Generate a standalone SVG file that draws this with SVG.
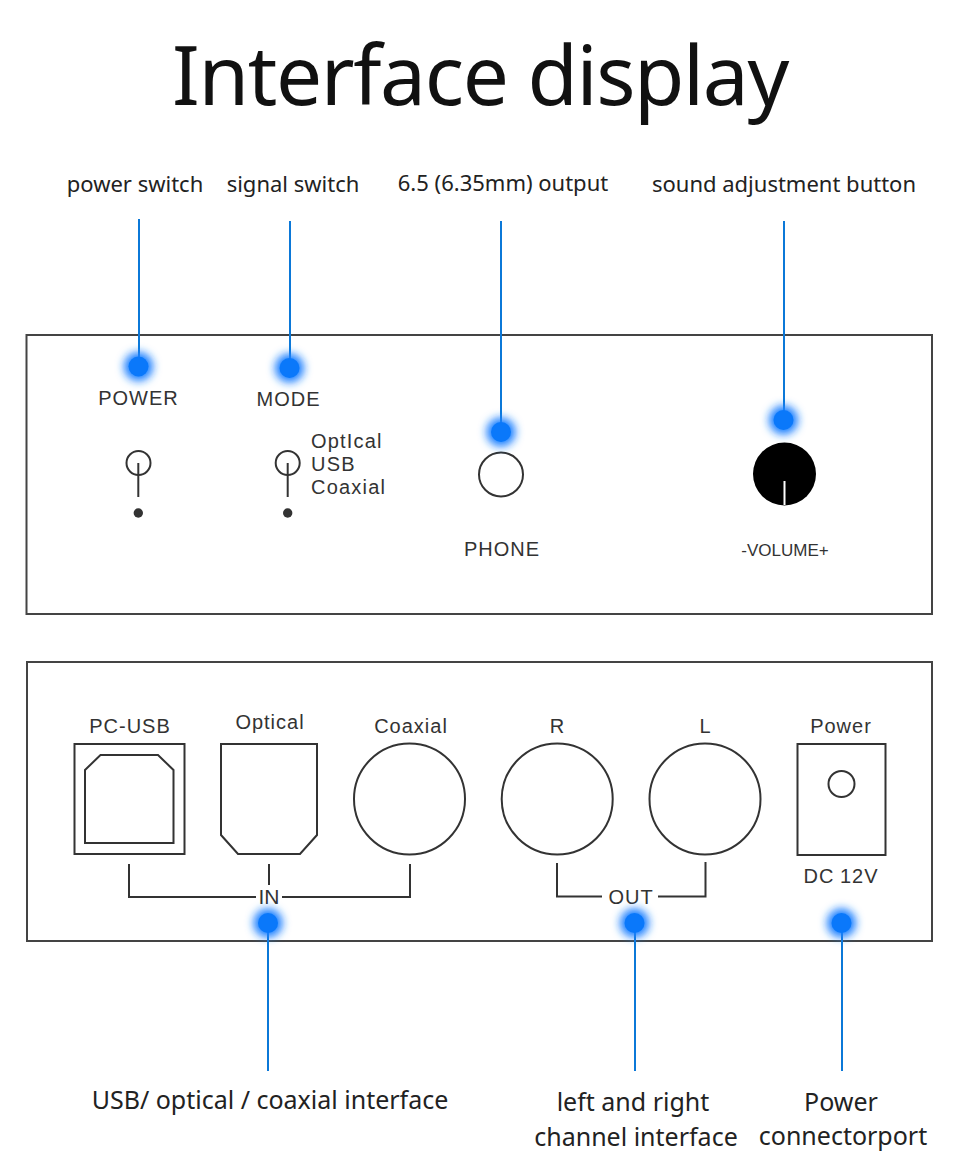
<svg xmlns="http://www.w3.org/2000/svg" width="960" height="1153" viewBox="0 0 960 1153">
<defs>
<filter id="glow" x="-100%" y="-100%" width="300%" height="300%"><feGaussianBlur stdDeviation="4.500"/></filter>
<g id="dot"><circle r="14.500" fill="#1a80ff" filter="url(#glow)"/><circle r="10" fill="#0a78fa"/></g>
</defs>
<style>
.cap{font-family:"Noto Sans","Open Sans",sans-serif;font-size:22px;fill:#222;text-anchor:middle}
.capb{font-size:25px}
.lb{font-family:"Liberation Sans",Arial,sans-serif;font-size:20px;fill:#333;text-anchor:middle;letter-spacing:1px}
.st{text-anchor:start;letter-spacing:1.200px}
.s{fill:none;stroke:#333;stroke-width:2}
.panel{fill:#fff;stroke:#444;stroke-width:2}
.lead{fill:none;stroke:#0b78d8;stroke-width:2}
</style>
<rect width="960" height="1153" fill="#fff"/>
<text x="480" y="105" font-family="'Noto Sans','Open Sans',sans-serif" font-size="82" letter-spacing="-1.400" fill="#111" text-anchor="middle" id="title">Interface display</text>
<g id="captions">
<text class="cap" x="135" y="192">power switch</text>
<text class="cap" x="293" y="192">signal switch</text>
<text class="cap" x="503" y="191">6.5 (6.35mm) output</text>
<text class="cap" x="784" y="192">sound adjustment button</text>
<text class="cap capb" x="270" y="1109">USB/ optical / coaxial interface</text>
<text class="cap capb" x="633" y="1111">left and right</text>
<text class="cap capb" x="636" y="1145.500">channel interface</text>
<text class="cap capb" x="841" y="1111">Power</text>
<text class="cap capb" x="843" y="1145">connectorport</text>
</g>
<g id="panel-front">
<rect class="panel" x="26.500" y="335" width="905.500" height="279"/>
<text class="lb" x="138.500" y="405">POWER</text>
<text class="lb" x="288.500" y="406">MODE</text>
<text class="lb" x="502" y="556">PHONE</text>
<text class="lb st" x="311" y="448">OptIcal</text>
<text class="lb st" x="311" y="471">USB</text>
<text class="lb st" x="311" y="494">Coaxial</text>
<text x="785" y="556" font-family="'Liberation Sans',Arial,sans-serif" font-size="17" fill="#333" text-anchor="middle">-VOLUME+</text>
</g>
<g id="power-switch"><circle class="s" cx="138.500" cy="463" r="12"/><path class="s" d="M138.300 463V497"/><circle cx="138.300" cy="513" r="4.700" fill="#333"/></g>
<g id="mode-switch"><circle class="s" cx="287.700" cy="463" r="12"/><path class="s" d="M287.700 463V497"/><circle cx="287.700" cy="513" r="4.700" fill="#333"/></g>
<g id="phone-jack"><circle class="s" cx="501" cy="474.500" r="22"/></g>
<g id="volume-knob"><circle cx="784.500" cy="474" r="31.500" fill="#000"/><path d="M784.500 481V505" stroke="#fff" stroke-width="2" fill="none"/></g>
<g id="panel-rear">
<rect class="panel" x="27" y="662" width="905" height="279"/>
<text class="lb" x="130" y="733">PC-USB</text>
<text class="lb" x="270" y="729">Optical</text>
<text class="lb" x="411" y="733">Coaxial</text>
<text class="lb" x="557.500" y="733">R</text>
<text class="lb" x="705.500" y="733">L</text>
<text class="lb" x="841" y="733">Power</text>
<text class="lb" x="841" y="883" style="word-spacing:-1px">DC 12V</text>
<text class="lb" x="269" y="904" style="letter-spacing:0;font-size:21px">IN</text>
<text class="lb" x="631" y="904">OUT</text>
</g>
<g id="usb-port"><rect class="s" x="74.500" y="744" width="110" height="110"/><path class="s" d="M85 770L100.500 755H158L173.500 770V843H85Z"/></g>
<g id="optical-port"><path class="s" d="M221 744H317V835L300 854H238L221 835Z"/></g>
<g id="coaxial-port"><circle class="s" cx="409.500" cy="799" r="55.500"/></g>
<g id="r-port"><circle class="s" cx="557.200" cy="799" r="55.500"/></g>
<g id="l-port"><circle class="s" cx="705" cy="799" r="55.500"/></g>
<g id="power-port"><rect class="s" x="797.500" y="744" width="88" height="111"/><circle class="s" cx="841.500" cy="784" r="13"/></g>
<g id="connectors">
<path class="s" d="M129 864V897H256M282 897H410V864M269 864V885"/>
<path class="s" d="M557 863V896.500H602M658 896.500H705.500V862"/>
<path class="lead" d="M139 219V366M290 221V368M501 221V432M784 221V420M268 923V1071M635 923V1071M842 923V1071"/>
</g>
<g id="marker-power"><use href="#dot" x="138.500" y="366.500"/></g>
<g id="marker-mode"><use href="#dot" x="289.500" y="368"/></g>
<g id="marker-phone"><use href="#dot" x="501" y="432"/></g>
<g id="marker-volume"><use href="#dot" x="783.500" y="420"/></g>
<g id="marker-in"><use href="#dot" x="268" y="923"/></g>
<g id="marker-out"><use href="#dot" x="634.500" y="923"/></g>
<g id="marker-dc"><use href="#dot" x="841.500" y="923"/></g>
</svg>
